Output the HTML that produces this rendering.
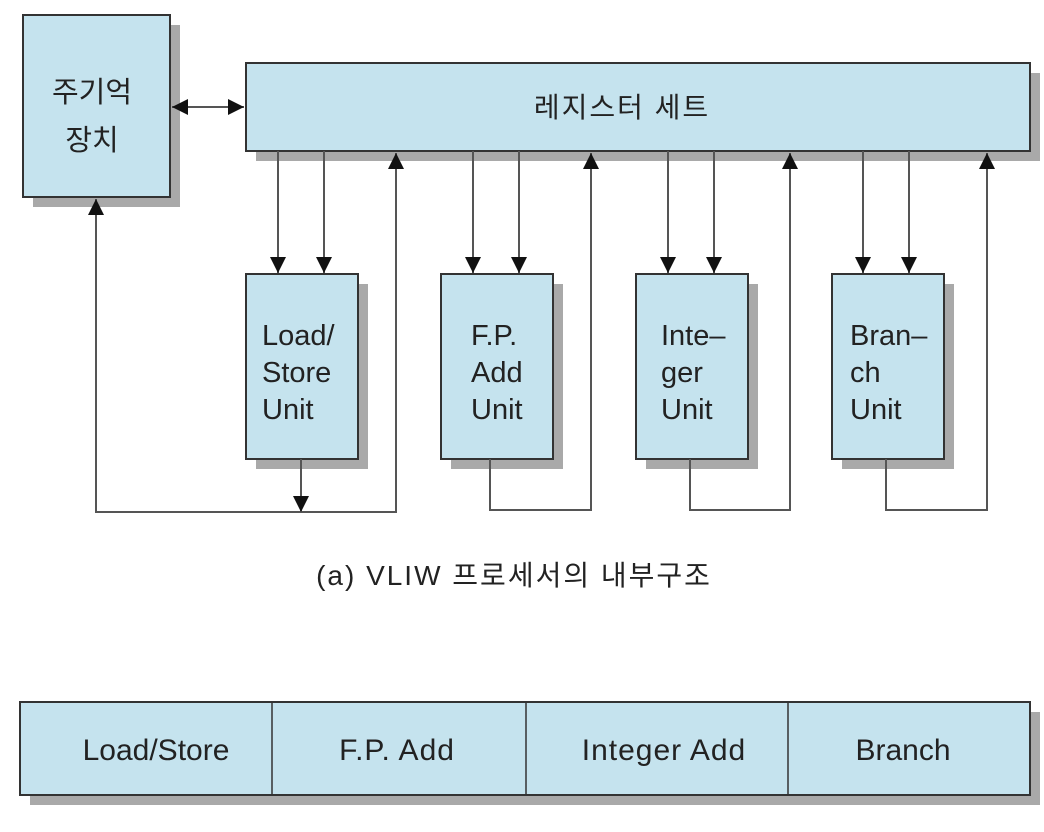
<!DOCTYPE html>
<html><head><meta charset="utf-8"><style>
html,body{margin:0;padding:0;background:#fff;}
svg{display:block;}
text{font-family:"Liberation Sans","Noto Sans CJK KR",sans-serif;fill:#222;}
</style></head><body>
<svg width="1044" height="832" viewBox="0 0 1044 832" xmlns="http://www.w3.org/2000/svg">
<defs>
<marker id="a" viewBox="0 0 10 10" refX="10" refY="5" markerWidth="16" markerHeight="16" markerUnits="userSpaceOnUse" orient="auto"><path d="M0,0 L10,5 L0,10 z" fill="#111"/></marker>
</defs>
<g fill="#a9a9a9">
<rect x="33" y="25" width="147" height="182"/>
<rect x="256" y="73" width="784" height="88"/>
<rect x="256" y="284" width="112" height="185"/>
<rect x="451" y="284" width="112" height="185"/>
<rect x="646" y="284" width="112" height="185"/>
<rect x="842" y="284" width="112" height="185"/>
<rect x="30" y="712" width="1010" height="93"/>
</g>
<g fill="#c5e3ee" stroke="#333" stroke-width="2">
<rect x="23" y="15" width="147" height="182"/>
<rect x="246" y="63" width="784" height="88"/>
<rect x="246" y="274" width="112" height="185"/>
<rect x="441" y="274" width="112" height="185"/>
<rect x="636" y="274" width="112" height="185"/>
<rect x="832" y="274" width="112" height="185"/>
<rect x="20" y="702" width="1010" height="93"/>
</g>
<g stroke="#333" stroke-width="1.5">
<line x1="272" y1="702" x2="272" y2="795"/>
<line x1="526" y1="702" x2="526" y2="795"/>
<line x1="788" y1="702" x2="788" y2="795"/>
</g>
<g stroke="#555" stroke-width="2" fill="none" marker-end="url(#a)">
<line x1="200" y1="107" x2="172" y2="107"/>
<line x1="200" y1="107" x2="244" y2="107"/>
<line x1="278" y1="151" x2="278" y2="273"/>
<line x1="324" y1="151" x2="324" y2="273"/>
<line x1="473" y1="151" x2="473" y2="273"/>
<line x1="519" y1="151" x2="519" y2="273"/>
<line x1="668" y1="151" x2="668" y2="273"/>
<line x1="714" y1="151" x2="714" y2="273"/>
<line x1="863" y1="151" x2="863" y2="273"/>
<line x1="909" y1="151" x2="909" y2="273"/>
<polyline points="301,512 96,512 96,199"/>
<polyline points="301,512 396,512 396,153"/>
<line x1="301" y1="459" x2="301" y2="512"/>
<polyline points="490,459 490,510 591,510 591,153"/>
<polyline points="690,459 690,510 790,510 790,153"/>
<polyline points="886,459 886,510 987,510 987,153"/>
</g>
<g font-size="28">
<text x="92" y="102" text-anchor="middle" font-size="29">주기억</text>
<text x="92" y="150" text-anchor="middle" font-size="29">장치</text>
<text x="622" y="117" text-anchor="middle" font-size="28" letter-spacing="2">레지스터 세트</text>
<text x="262" y="345" font-size="29">Load/</text>
<text x="262" y="382" font-size="29">Store</text>
<text x="262" y="419" font-size="29">Unit</text>
<text x="471" y="345" font-size="29">F.P.</text>
<text x="471" y="382" font-size="29">Add</text>
<text x="471" y="419" font-size="29">Unit</text>
<text x="661" y="345" font-size="29">Inte–</text>
<text x="661" y="382" font-size="29">ger</text>
<text x="661" y="419" font-size="29">Unit</text>
<text x="850" y="345" font-size="29">Bran–</text>
<text x="850" y="382" font-size="29">ch</text>
<text x="850" y="419" font-size="29">Unit</text>
<text x="514" y="585" text-anchor="middle" font-size="28" letter-spacing="2">(a) VLIW 프로세서의 내부구조</text>
<text x="156" y="760" text-anchor="middle" font-size="30">Load/Store</text>
<text x="397" y="760" text-anchor="middle" font-size="30" letter-spacing="1">F.P. Add</text>
<text x="664" y="760" text-anchor="middle" font-size="30" letter-spacing="1">Integer Add</text>
<text x="903" y="760" text-anchor="middle" font-size="30">Branch</text>
</g>
</svg>
</body></html>
